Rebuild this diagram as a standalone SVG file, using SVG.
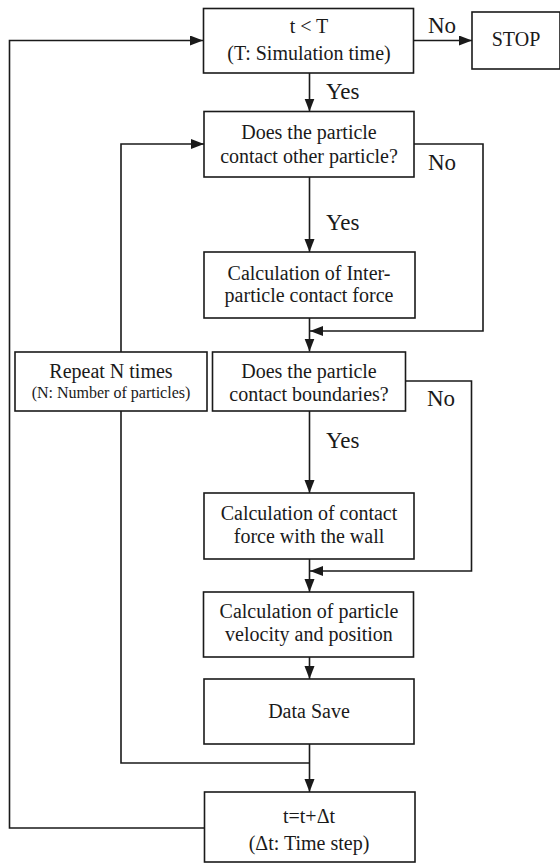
<svg xmlns="http://www.w3.org/2000/svg" width="560" height="865" viewBox="0 0 560 865">
<style>
.box{fill:#fff;stroke:#1a1a1a;stroke-width:1.6}
.t{font-family:"Liberation Serif","Times New Roman",serif;font-size:20px;fill:#1a1a1a;text-anchor:middle}
.s{font-size:16px}
.lbl{font-family:"Liberation Serif","Times New Roman",serif;font-size:23px;fill:#1a1a1a}
.c{fill:none;stroke:#1a1a1a;stroke-width:1.6}
</style>
<defs>
<marker id="ah" markerUnits="userSpaceOnUse" markerWidth="14" markerHeight="11" refX="13" refY="5" orient="auto">
<path d="M0,0 L13,5 L0,10 z" fill="#1a1a1a"/>
</marker>
</defs>
<rect width="560" height="865" fill="#fff"/>
<g id="connectors">
<path class="c" d="M204,828 H9.5 V40.5 H203" marker-end="url(#ah)"/>
<path class="c" d="M413,40.5 H472" marker-end="url(#ah)"/>
<path class="c" d="M309.5,73 V111.5" marker-end="url(#ah)"/>
<path class="c" d="M309.5,177 V252" marker-end="url(#ah)"/>
<path class="c" d="M414,144 H483 V331 H310" marker-end="url(#ah)"/>
<path class="c" d="M309.5,318 V351.5" marker-end="url(#ah)"/>
<path class="c" d="M405.5,381 H471.5 V571 H310" marker-end="url(#ah)"/>
<path class="c" d="M309.5,411 V493" marker-end="url(#ah)"/>
<path class="c" d="M309.5,559 V592" marker-end="url(#ah)"/>
<path class="c" d="M309.5,657 V679" marker-end="url(#ah)"/>
<path class="c" d="M309.5,744 V792" marker-end="url(#ah)"/>
<path class="c" d="M121,411 V763 H309.5"/>
<path class="c" d="M121,352 V144 H204" marker-end="url(#ah)"/>
<text class="lbl" x="428" y="33">No</text>
<text class="lbl" x="326" y="99">Yes</text>
<text class="lbl" x="428" y="170">No</text>
<text class="lbl" x="326" y="230">Yes</text>
<text class="lbl" x="427" y="406">No</text>
<text class="lbl" x="326" y="448">Yes</text>
</g>
<g id="start">
<rect class="box" x="203.5" y="8.5" width="210" height="64.5"/>
<text class="t" x="309" y="33">t &lt; T</text>
<text class="t" x="309" y="60">(T: Simulation time)</text>
</g>
<g id="stop">
<rect class="box" x="472" y="12" width="88" height="57"/>
<text class="t" x="516" y="46">STOP</text>
</g>
<g id="contactParticle">
<rect class="box" x="204" y="111.5" width="210" height="65.5"/>
<text class="t" x="309" y="139">Does the particle</text>
<text class="t" x="309" y="163">contact other particle?</text>
</g>
<g id="interForce">
<rect class="box" x="204" y="252" width="211" height="66"/>
<text class="t" x="309" y="280">Calculation of Inter-</text>
<text class="t" x="309" y="302">particle contact force</text>
</g>
<g id="repeat">
<rect class="box" x="15" y="352" width="192" height="59"/>
<text class="t" x="111" y="378">Repeat N times</text>
<text class="t s" x="111" y="398">(N: Number of particles)</text>
</g>
<g id="contactBoundary">
<rect class="box" x="212.5" y="352" width="193" height="59"/>
<text class="t" x="309" y="378">Does the particle</text>
<text class="t" x="309" y="401">contact boundaries?</text>
</g>
<g id="wallForce">
<rect class="box" x="204" y="493" width="210" height="66"/>
<text class="t" x="309" y="520">Calculation of contact</text>
<text class="t" x="309" y="543">force with the wall</text>
</g>
<g id="velocity">
<rect class="box" x="203.5" y="592" width="210" height="65"/>
<text class="t" x="309" y="618">Calculation of particle</text>
<text class="t" x="309" y="641">velocity and position</text>
</g>
<g id="dataSave">
<rect class="box" x="204" y="679" width="210" height="65"/>
<text class="t" x="309" y="718">Data Save</text>
</g>
<g id="timeStep">
<rect class="box" x="204.5" y="792" width="210.5" height="70"/>
<text class="t" x="309" y="823">t=t+Δt</text>
<text class="t" x="309" y="850">(Δt: Time step)</text>
</g>
</svg>
